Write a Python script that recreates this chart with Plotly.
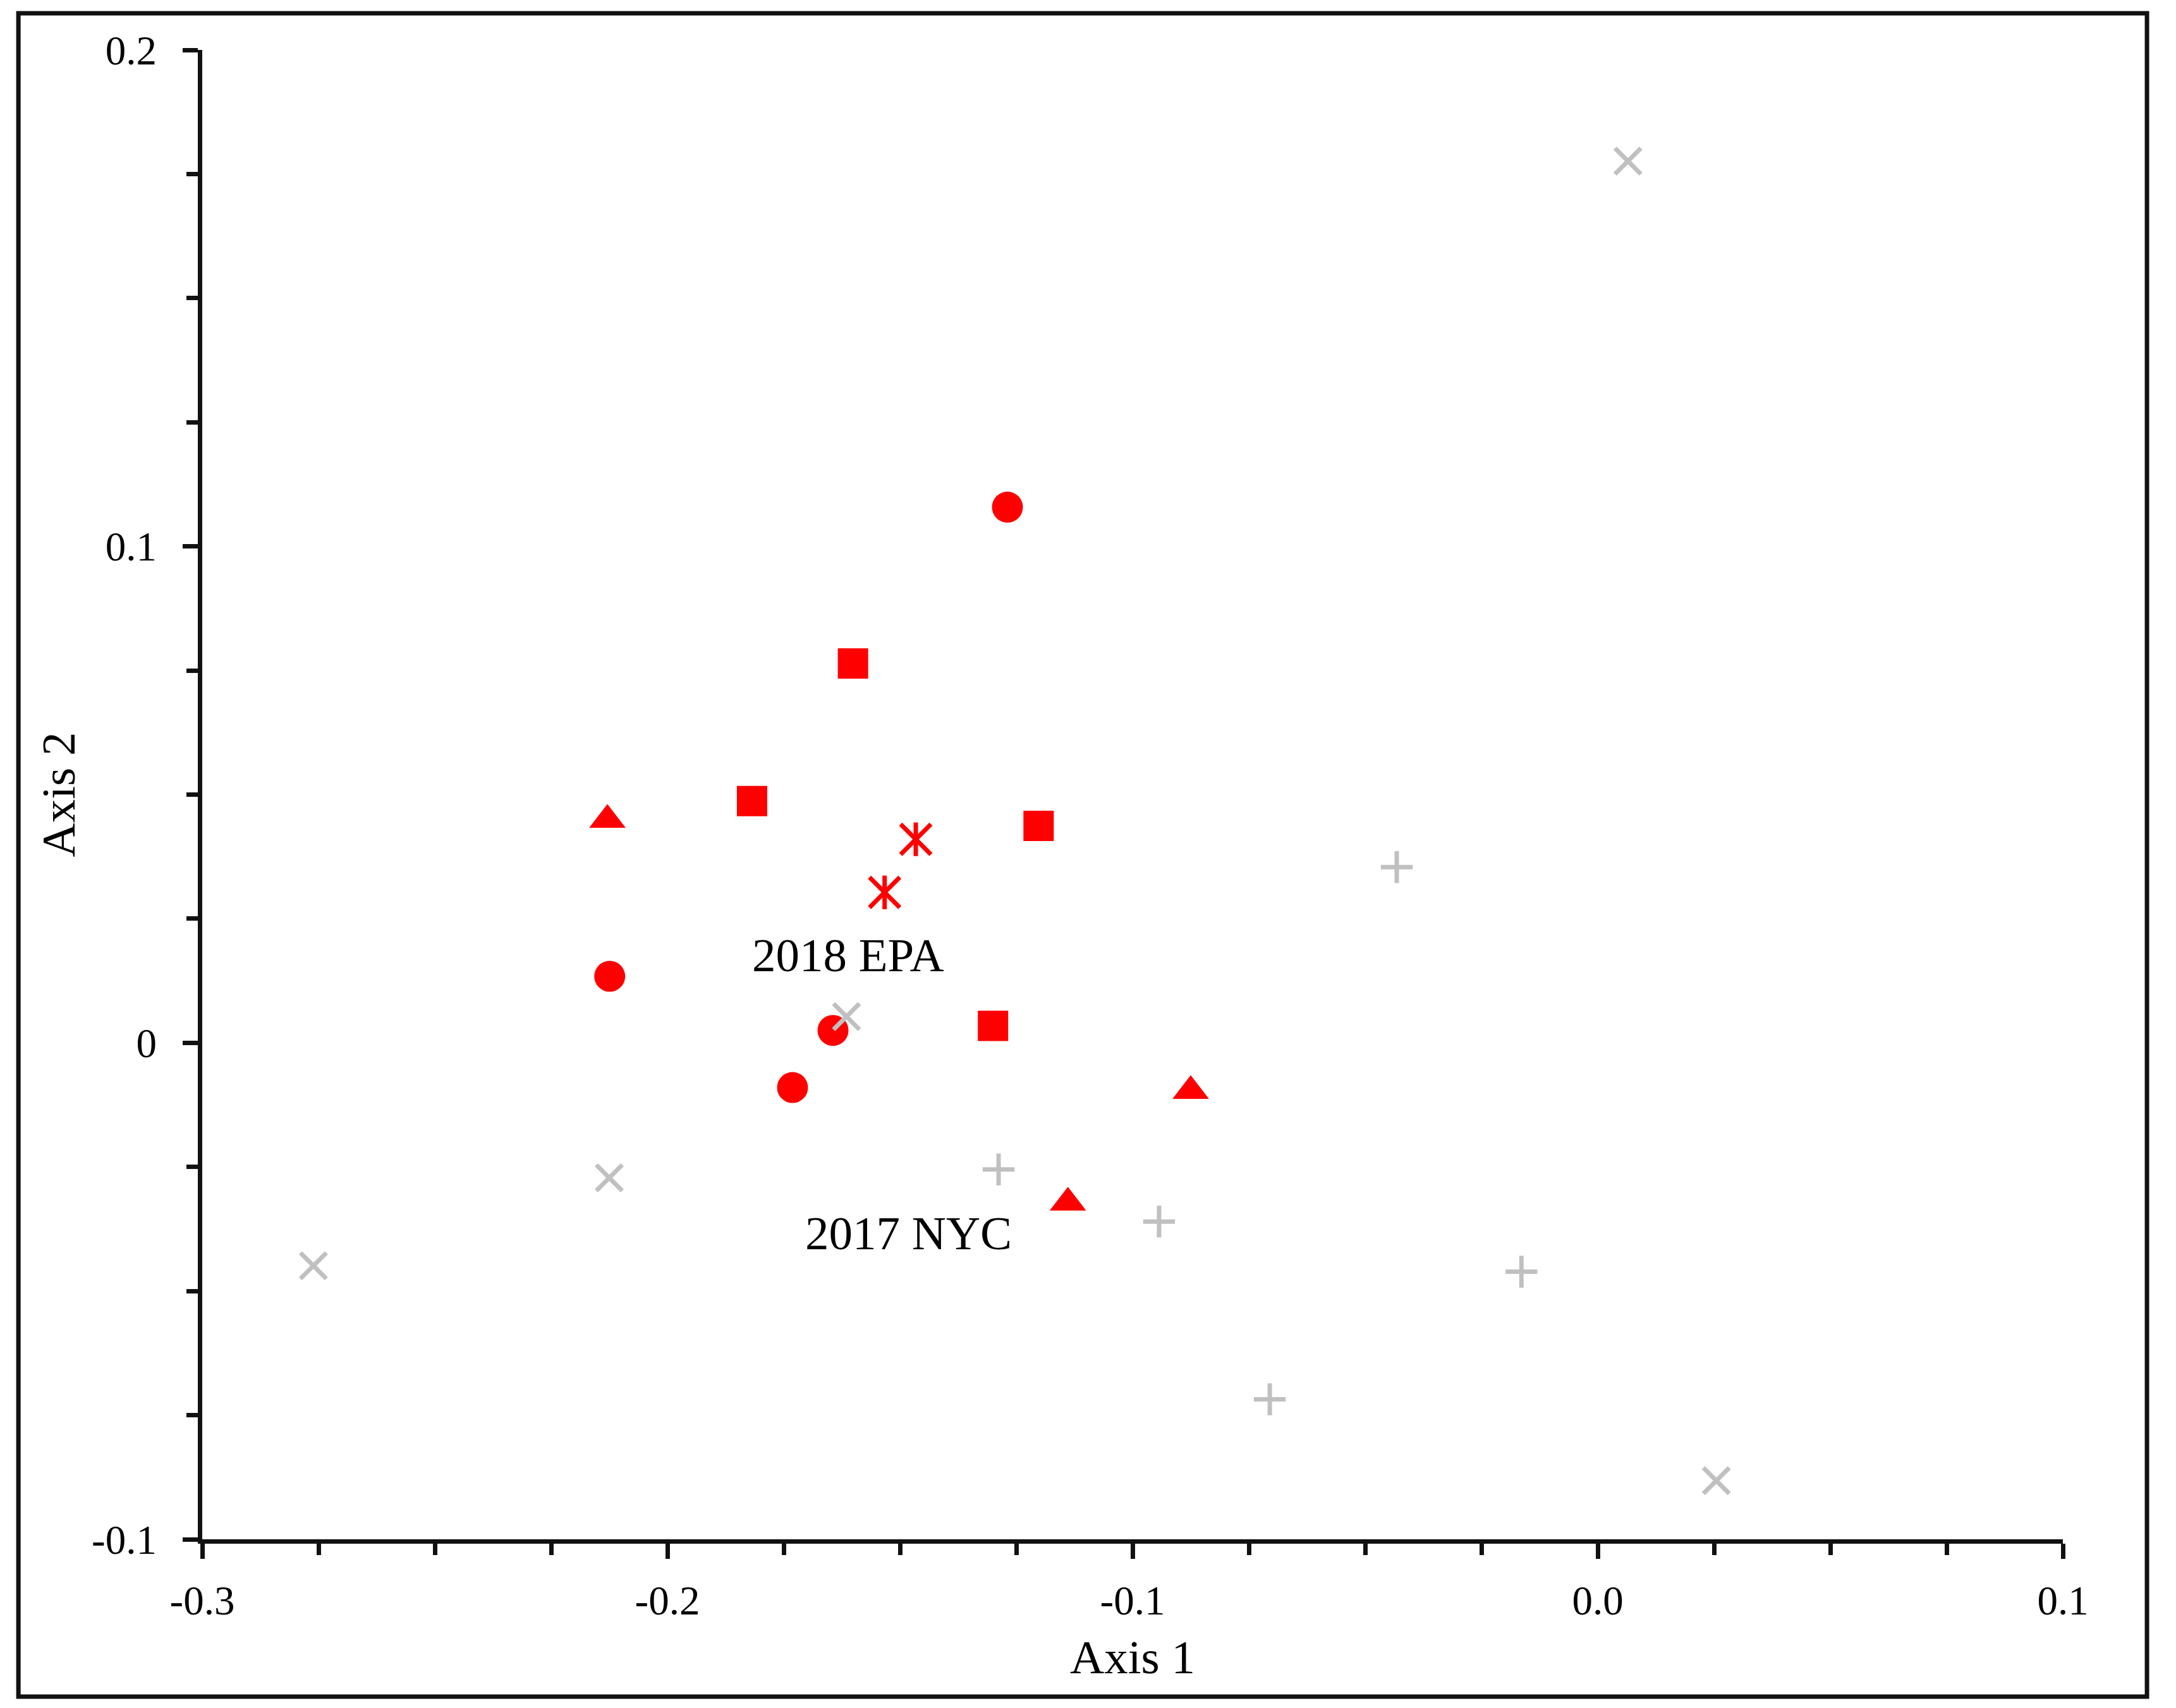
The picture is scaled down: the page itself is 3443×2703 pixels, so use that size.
import plotly.graph_objects as go

# ordination scores
circle_x = [-0.1269, -0.2124, -0.1644, -0.1731]
circle_y = [0.1079, 0.0134, 0.0025, -0.0090]

square_x = [-0.1601, -0.1818, -0.1202, -0.1300]
square_y = [0.0764, 0.0487, 0.0437, 0.0034]

triangle_x = [-0.2129, -0.0875, -0.1139]
triangle_y = [0.0449, -0.0097, -0.0322]

star_x = [-0.1466, -0.1533]
star_y = [0.0410, 0.0303]

cross_x = [0.0065, -0.1615, -0.2125, -0.2761, 0.0255]
cross_y = [0.1776, 0.0053, -0.0272, -0.0449, -0.0882]

plus_x = [-0.0432, -0.1288, -0.0943, -0.0164, -0.0705]
plus_y = [0.0354, -0.0255, -0.0360, -0.0461, -0.0718]

x_ticks = [-0.3, -0.2, -0.1, 0.0, 0.1]
x_tick_labels = ['-0.3', '-0.2', '-0.1', '0.0', '0.1']
y_ticks = [-0.1, 0.0, 0.1, 0.2]
y_tick_labels = ['-0.1', '0', '0.1', '0.2']

group_labels = ['2018 EPA', '2017 NYC']
group_label_x = [-0.1612, -0.1482]
group_label_y = [0.0177, -0.0383]

RED = '#FF0000'
GRAY = '#C0C0C0'
INK = '#111111'
FONT = 'Liberation Serif, Times New Roman, serif'

fig = go.Figure()

fig.add_trace(go.Scatter(x=circle_x, y=circle_y, mode='markers',
                         marker=dict(symbol='circle', size=49, color=RED)))
fig.add_trace(go.Scatter(x=square_x, y=square_y, mode='markers',
                         marker=dict(symbol='square', size=48, color=RED)))
fig.add_trace(go.Scatter(x=triangle_x, y=triangle_y, mode='markers',
                         marker=dict(symbol='triangle-up', size=50, color=RED)))
# six-armed asterisk = diagonal cross + vertical bar
fig.add_trace(go.Scatter(x=star_x, y=star_y, mode='markers',
                         marker=dict(symbol='x-thin-open', size=48, color=RED,
                                     line=dict(color=RED, width=7))))
fig.add_trace(go.Scatter(x=star_x, y=star_y, mode='markers',
                         marker=dict(symbol='line-ns-open', size=38, color=RED,
                                     line=dict(color=RED, width=7))))
fig.add_trace(go.Scatter(x=cross_x, y=cross_y, mode='markers',
                         marker=dict(symbol='x-thin-open', size=41, color=GRAY,
                                     line=dict(color=GRAY, width=7))))
fig.add_trace(go.Scatter(x=plus_x, y=plus_y, mode='markers',
                         marker=dict(symbol='cross-thin-open', size=36, color=GRAY,
                                     line=dict(color=GRAY, width=7))))

for label, lx, ly in zip(group_labels, group_label_x, group_label_y):
    fig.add_annotation(x=lx, y=ly, text=label, showarrow=False,
                       font=dict(family=FONT, size=75, color='black'))

tick_common = dict(tickwidth=7, tickcolor=INK, ticklen=24, showgrid=False, zeroline=False)
minor_out = dict(ticks='outside', tickmode='linear', tick0=0, dtick=0.025,
                 ticklen=18, tickwidth=7, tickcolor=INK, showgrid=False)
minor_in = dict(minor_out, ticks='inside')

# page body has an 8px margin, so the figure is 8px smaller each way
fig.update_layout(
    width=3435, height=2695,
    margin=dict(l=312, r=179, t=71, b=267),
    paper_bgcolor='white', plot_bgcolor='white',
    showlegend=False,
    font=dict(family=FONT, color='black'),
    xaxis=dict(range=[-0.3, 0.1], tickmode='array', tickvals=x_ticks, ticktext=x_tick_labels,
               ticks='outside', minor=minor_out, showline=True, linewidth=7, linecolor=INK,
               tickfont=dict(family=FONT, size=65), ticklabelstandoff=10,
               title=dict(text='Axis 1', font=dict(family=FONT, size=75), standoff=30),
               **tick_common),
    yaxis=dict(range=[-0.1, 0.2], tickmode='array', tickvals=y_ticks, ticktext=y_tick_labels,
               ticks='outside', minor=minor_out, showline=True, linewidth=7, linecolor=INK,
               tickfont=dict(family=FONT, size=65), ticklabelstandoff=28,
               title=dict(text='Axis 2', font=dict(family=FONT, size=75), standoff=4),
               **tick_common),
    # twin axes give the inner half of the crossing tick marks
    xaxis2=dict(overlaying='x', matches='x', anchor='y', side='bottom', tickmode='array',
                tickvals=x_ticks, ticks='inside', minor=minor_in, showticklabels=False,
                showline=False, **tick_common),
    yaxis2=dict(overlaying='y', matches='y', anchor='x', side='left', tickmode='array',
                tickvals=y_ticks, ticks='inside', minor=minor_in, showticklabels=False,
                showline=False, **tick_common),
)

# frame round the whole picture
fig.add_shape(type='rect', xref='paper', yref='paper',
              x0=-0.0988, x1=1.0452, y0=-0.1056, y1=1.0246,
              line=dict(color=INK, width=7), fillcolor='rgba(0,0,0,0)')

fig.write_html('out.html')
